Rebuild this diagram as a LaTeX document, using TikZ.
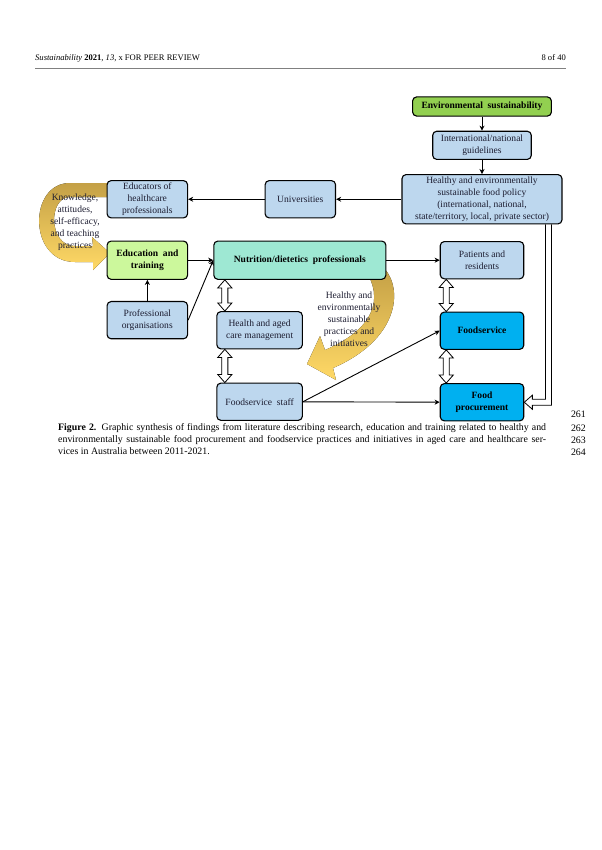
\documentclass[tikz,border=0pt]{standalone}
\usepackage{fontspec}
\setmainfont{Liberation Serif}
\usetikzlibrary{positioning,arrows.meta,calc}

\definecolor{boxblue}{HTML}{BDD7EE}
\definecolor{boxtext}{HTML}{1C1C30}
\definecolor{envgreen}{HTML}{92D050}
\definecolor{edugreen}{HTML}{CCF89C}
\definecolor{nutriteal}{HTML}{9EE8D3}
\definecolor{fsblue}{HTML}{00B0F0}
\definecolor{bandgold}{HTML}{C4A046}
\definecolor{bandyellow}{HTML}{FFD966}

\newcommand{\boxfont}{\fontsize{9.5}{12.2}\selectfont}
\newcommand{\headfont}{\fontsize{8.5}{10}\selectfont}
\newcommand{\capfont}{\fontsize{9.8}{12}\selectfont}

\tikzset{
  box/.style={draw, line width=1.1pt, rounded corners=4pt, fill=boxblue,
    align=center, inner sep=1pt, font=\boxfont, text=boxtext},
  envbox/.style={fill=envgreen, text=black, font=\boxfont\bfseries},
  edubox/.style={fill=edugreen, text=black, font=\boxfont\bfseries},
  nutribox/.style={fill=nutriteal, text=black, font=\boxfont\bfseries},
  fsbox/.style={fill=fsblue, text=black, font=\boxfont\bfseries},
  conn/.style={line width=0.9pt, ->},
  % hollow two-headed block arrow, vertical
  blockarrow/.style={line width=0.8pt, line join=miter, to path={
    let \p1=(\tikztostart), \p2=(\tikztotarget) in
    (\x1,\y1) -- (\x1+7pt,\y1-8pt) -- (\x1+3pt,\y1-8pt) -- (\x1+3pt,\y2+8pt)
    -- (\x1+7pt,\y2+8pt) -- (\x1,\y2) -- (\x1-7pt,\y2+8pt) -- (\x1-3pt,\y2+8pt)
    -- (\x1-3pt,\y1-8pt) -- (\x1-7pt,\y1-8pt) -- cycle}},
  % hollow bent arrow, down then left
  bentarrow/.style={line width=0.8pt, line join=miter, to path={
    let \p1=(\tikztostart), \p2=(\tikztotarget) in
    (\x1-3pt,\y1) -- (\x1-3pt,\y2+3pt) -- (\x2+8pt,\y2+3pt) -- (\x2+8pt,\y2+7pt)
    -- (\x2,\y2) -- (\x2+8pt,\y2-7pt) -- (\x2+8pt,\y2-3pt) -- (\x1+3pt,\y2-3pt)
    -- (\x1+3pt,\y1)}},
  bandtext/.style={align=center, font=\fontsize{9.5}{11.8}\selectfont, text=boxtext, inner sep=0pt},
  lineno/.style={anchor=base east, font=\capfont, inner sep=0pt}
}

\begin{document}
\begin{tikzpicture}[x=0.3494mm, y=-0.3494mm, >={Stealth[length=5pt,width=5pt,inset=1.5pt]}]
  \useasboundingbox (0,0) rectangle (601,850);

  % page header
  \node[anchor=base west, font=\headfont, inner sep=0pt] (head) at (35,60)
    {\textit{Sustainability} \textbf{2021}, \textit{13}, x FOR PEER REVIEW};
  \node[anchor=base east, font=\headfont, inner sep=0pt] (page) at (566,60) {8 of 40};
  \draw[gray, line width=0.5pt] (35,68) -- (566,68);

  % curved bands
  \fill[top color=bandgold, bottom color=bandyellow]
    (115,183) -- (70,183) .. controls (28,183) and (28,262) .. (75,262)
    -- (93,262) -- (93,270) -- (110,253) -- (92,237) -- (93,246) -- (75,246)
    .. controls (48,246) and (48,197) .. (70,197) -- (115,197) -- cycle;
  \fill[top color=bandgold, bottom color=bandyellow]
    (384,268) .. controls (404,290) and (398,340) .. (333,368)
    -- (336,380) -- (307,364) -- (320,336) -- (325,350)
    .. controls (372,330) and (386,300) .. (364,268) -- cycle;
  \node[bandtext] (ktext) at (75,222) {Knowledge,\\attitudes,\\self-efficacy,\\and teaching\\practices};
  \node[bandtext] (htext) at (349,319) {Healthy and\\environmentally\\sustainable\\practices and\\initiatives};

  % boxes
  \node[box, envbox, minimum width=138pt, minimum height=19pt] (env) at (482,106.5) {Environmental\ \ sustainability};
  \node[box, below=14pt of env, minimum width=98pt, minimum height=28pt] (intl) {International/national\\guidelines};
  \node[box, below=14pt of intl, minimum width=159pt, minimum height=49pt] (policy)
    {Healthy and environmentally\\sustainable food policy\\(international, national,\\state/territory, local, private sector)};
  \node[box, left=65pt of policy, minimum width=70pt, minimum height=37pt] (univ) {Universities};
  \node[box, left=76pt of univ, minimum width=80pt, minimum height=37pt] (educ) {Educators of\\healthcare\\professionals};
  \node[box, edubox, below=22pt of educ, minimum width=80pt, minimum height=38pt] (edu) {Education\ \ and\\training};
  \node[box, nutribox, right=25pt of edu, minimum width=171pt, minimum height=38pt] (nutri) {Nutrition/dietetics\ \ professionals};
  \node[box, right=53pt of nutri, minimum width=83pt, minimum height=37pt] (patients) {Patients and\\residents};
  \node[box, below=21pt of edu, minimum width=80pt, minimum height=37pt] (proforg) {Professional\\organisations};
  \node[box, below right=31pt and 3pt of nutri.south west, minimum width=85pt, minimum height=37pt] (hacm) {Health and aged\\care management};
  \node[box, below=33pt of hacm, minimum width=85pt, minimum height=37pt] (fsstaff) {Foodservice\ \ staff};
  \node[box, fsbox, below=32pt of patients, minimum width=83pt, minimum height=37pt] (fservice) {Foodservice};
  \node[box, fsbox, below=33pt of fservice, minimum width=83pt, minimum height=37pt] (fproc) {Food\\procurement};

  % connectors
  \draw[conn] (env) -- (intl);
  \draw[conn] (intl) -- (policy);
  \draw[conn] (policy) -- (univ);
  \draw[conn] (univ) -- (educ);
  \draw[conn] (edu) -- (nutri);
  \draw[conn] (proforg.east) -- (nutri.west);
  \draw[conn] (proforg) -- (edu);
  \draw[conn] (nutri) -- (patients);
  \draw[conn] (fsstaff.east) -- (fservice.west);
  \draw[conn] (fsstaff) -- (fproc);
  \draw[blockarrow] ([xshift=11.5pt]nutri.south west) to ([xshift=11.5pt]nutri.south west |- hacm.north);
  \draw[blockarrow] ([xshift=8.5pt]hacm.south west) to ([xshift=8.5pt]hacm.south west |- fsstaff.north);
  \draw[blockarrow] ([xshift=6.5pt]patients.south west) to ([xshift=6.5pt]patients.south west |- fservice.north);
  \draw[blockarrow] ([xshift=6.5pt]fservice.south west) to ([xshift=6.5pt]fservice.south west |- fproc.north);
  \draw[bentarrow] ([xshift=-14pt]policy.south east) to (fproc.east);

  % caption and line numbers
  \node[anchor=north west, align=left, font=\capfont, inner sep=0pt] (cap) at (58,423)
    {\makebox[485pt][s]{\textbf{Figure 2.} Graphic synthesis of findings from literature describing research, education and training related to healthy and}\\
     \makebox[485pt][s]{environmentally sustainable food procurement and foodservice practices and initiatives in aged care and healthcare ser-}\\
     vices in Australia between 2011-2021.};
  \foreach \n/\yy in {261/417, 262/431, 263/443, 264/455}
    \node[lineno] (ln\n) at (586,\yy) {\n};
\end{tikzpicture}
\end{document}
